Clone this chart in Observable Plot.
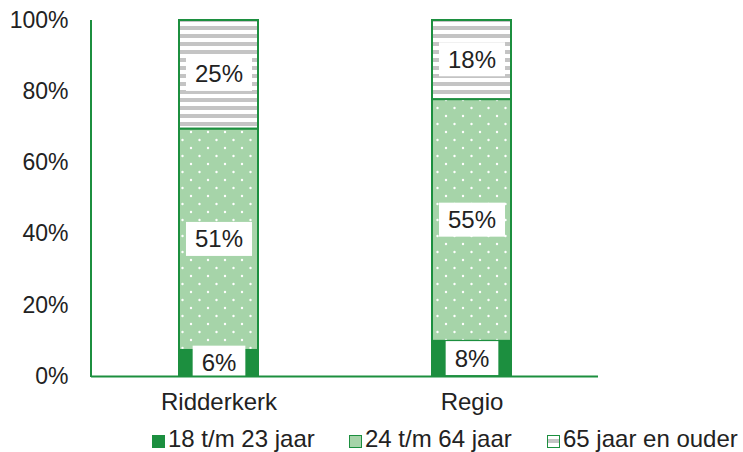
<!DOCTYPE html>
<html>
<head>
<meta charset="utf-8">
<script src="https://cdn.jsdelivr.net/npm/d3@7"></script>
<script src="https://cdn.jsdelivr.net/npm/@observablehq/plot@0.6"></script>
<style>
  body { margin: 0; background: #fff; font-family: "Liberation Sans", Arial, sans-serif; }
  #wrap { position: relative; width: 743px; }
  #legend { position: relative; height: 30px; width: 743px; font-size: 24px; color: #222; }
  .sw { position: absolute; top: 13px; width: 13px; height: 13px; box-sizing: border-box; }
  .lt { position: absolute; top: 3px; line-height: 28px; white-space: nowrap; }
</style>
</head>
<body>
<div id="wrap"></div>
<script>
const categories = ["Ridderkerk", "Regio"];
const groups = ["18 t/m 23 jaar", "24 t/m 64 jaar", "65 jaar en ouder"];
const ridderkerk = [6, 51, 25];
const regio = [8, 55, 18];
const yTicks = [0, 0.2, 0.4, 0.6, 0.8, 1];

const seriesByCat = { "Ridderkerk": ridderkerk, "Regio": regio };
const data = [];
for (const c of categories) groups.forEach((g, i) => data.push({ cat: c, group: g, value: seriesByCat[c][i] }));

const green = "#1c8f3f";
const fills = { "18 t/m 23 jaar": green, "24 t/m 64 jaar": "url(#dots)", "65 jaar en ouder": "url(#stripes)" };

const stackOpts = { offset: "normalize", order: groups };

const chart = Plot.plot({
  width: 743,
  height: 422,
  marginTop: 20,
  marginBottom: 46,
  marginLeft: 91,
  marginRight: 145,
  style: { fontFamily: "'Liberation Sans', Arial, sans-serif", fontSize: "24px", color: "#222" },
  x: { domain: categories, padding: 0, label: null },
  y: { domain: [0, 1], label: null },
  color: { type: "identity" },
  marks: [
    Plot.barY(data, Plot.stackY({
      ...stackOpts, x: "cat", y: "value", z: "group",
      fill: d => fills[d.group], stroke: green, strokeWidth: 2,
      insetLeft: 87, insetRight: 87
    })),
    Plot.text(data, Plot.stackY({
      ...stackOpts, x: "cat", y: "value", z: "group",
      text: d => d.value + "%", fill: "#222", fontSize: 24
    })),
    Plot.axisY({ ticks: yTicks, tickFormat: d3.format(".0%"), tickSize: 0, tickPadding: 23, fontSize: 23, fill: "#222" }),
    Plot.axisX({ tickSize: 0, tickPadding: 16, fontSize: 24, fill: "#222" }),
    Plot.ruleY([0], { stroke: green, strokeWidth: 2 })
  ]
});

// pattern defs
const ns = "http://www.w3.org/2000/svg";
const defs = document.createElementNS(ns, "defs");
defs.innerHTML = `
  <pattern id="dots" patternUnits="userSpaceOnUse" width="17" height="16">
    <rect width="17" height="16" fill="#a6d4a9"/>
    <circle cx="4" cy="4" r="1.2" fill="#fff"/>
    <circle cx="12.5" cy="12" r="1.2" fill="#fff"/>
  </pattern>
  <pattern id="stripes" patternUnits="userSpaceOnUse" width="8" height="8">
    <rect width="8" height="8" fill="#fff"/>
    <rect y="2" width="8" height="4" fill="#c4c4c4"/>
  </pattern>`;
chart.insertBefore(defs, chart.firstChild);

document.getElementById("wrap").appendChild(chart);

// y axis line
const yScale = chart.scale("y");
const vline = document.createElementNS(ns, "line");
vline.setAttribute("x1", 91); vline.setAttribute("x2", 91);
vline.setAttribute("y1", yScale.apply(1)); vline.setAttribute("y2", yScale.apply(0) + 1);
vline.setAttribute("stroke", green); vline.setAttribute("stroke-width", 2);
chart.appendChild(vline);

// white boxes behind segment labels
chart.querySelectorAll('g[aria-label="text"] text').forEach(t => {
  const b = t.getBBox();
  const r = document.createElementNS(ns, "rect");
  const padX = 9, h = 34;
  r.setAttribute("x", b.x - padX);
  r.setAttribute("width", b.width + 2 * padX);
  r.setAttribute("y", b.y + b.height / 2 - h / 2);
  r.setAttribute("height", h);
  r.setAttribute("fill", "#fff");
  const tr = t.getAttribute("transform");
  if (tr) r.setAttribute("transform", tr);
  t.parentNode.insertBefore(r, t);
});

// legend
const legend = document.createElement("div");
legend.id = "legend";
const legendX = [152, 349, 547];
const swStyles = [
  `background:${green};`,
  `background:#a6d4a9; border:1.5px solid ${green};`,
  `background:linear-gradient(#fff 0 3px, #c4c4c4 3px 7px, #fff 7px); border:1.5px solid ${green};`
];
groups.forEach((g, i) => {
  const sw = document.createElement("span");
  sw.className = "sw";
  sw.style.cssText += swStyles[i];
  sw.style.left = legendX[i] + "px";
  legend.appendChild(sw);
  const t = document.createElement("span");
  t.className = "lt";
  t.style.left = (legendX[i] + 16) + "px";
  t.textContent = g;
  legend.appendChild(t);
});
document.getElementById("wrap").appendChild(legend);
</script>
</body>
</html>
